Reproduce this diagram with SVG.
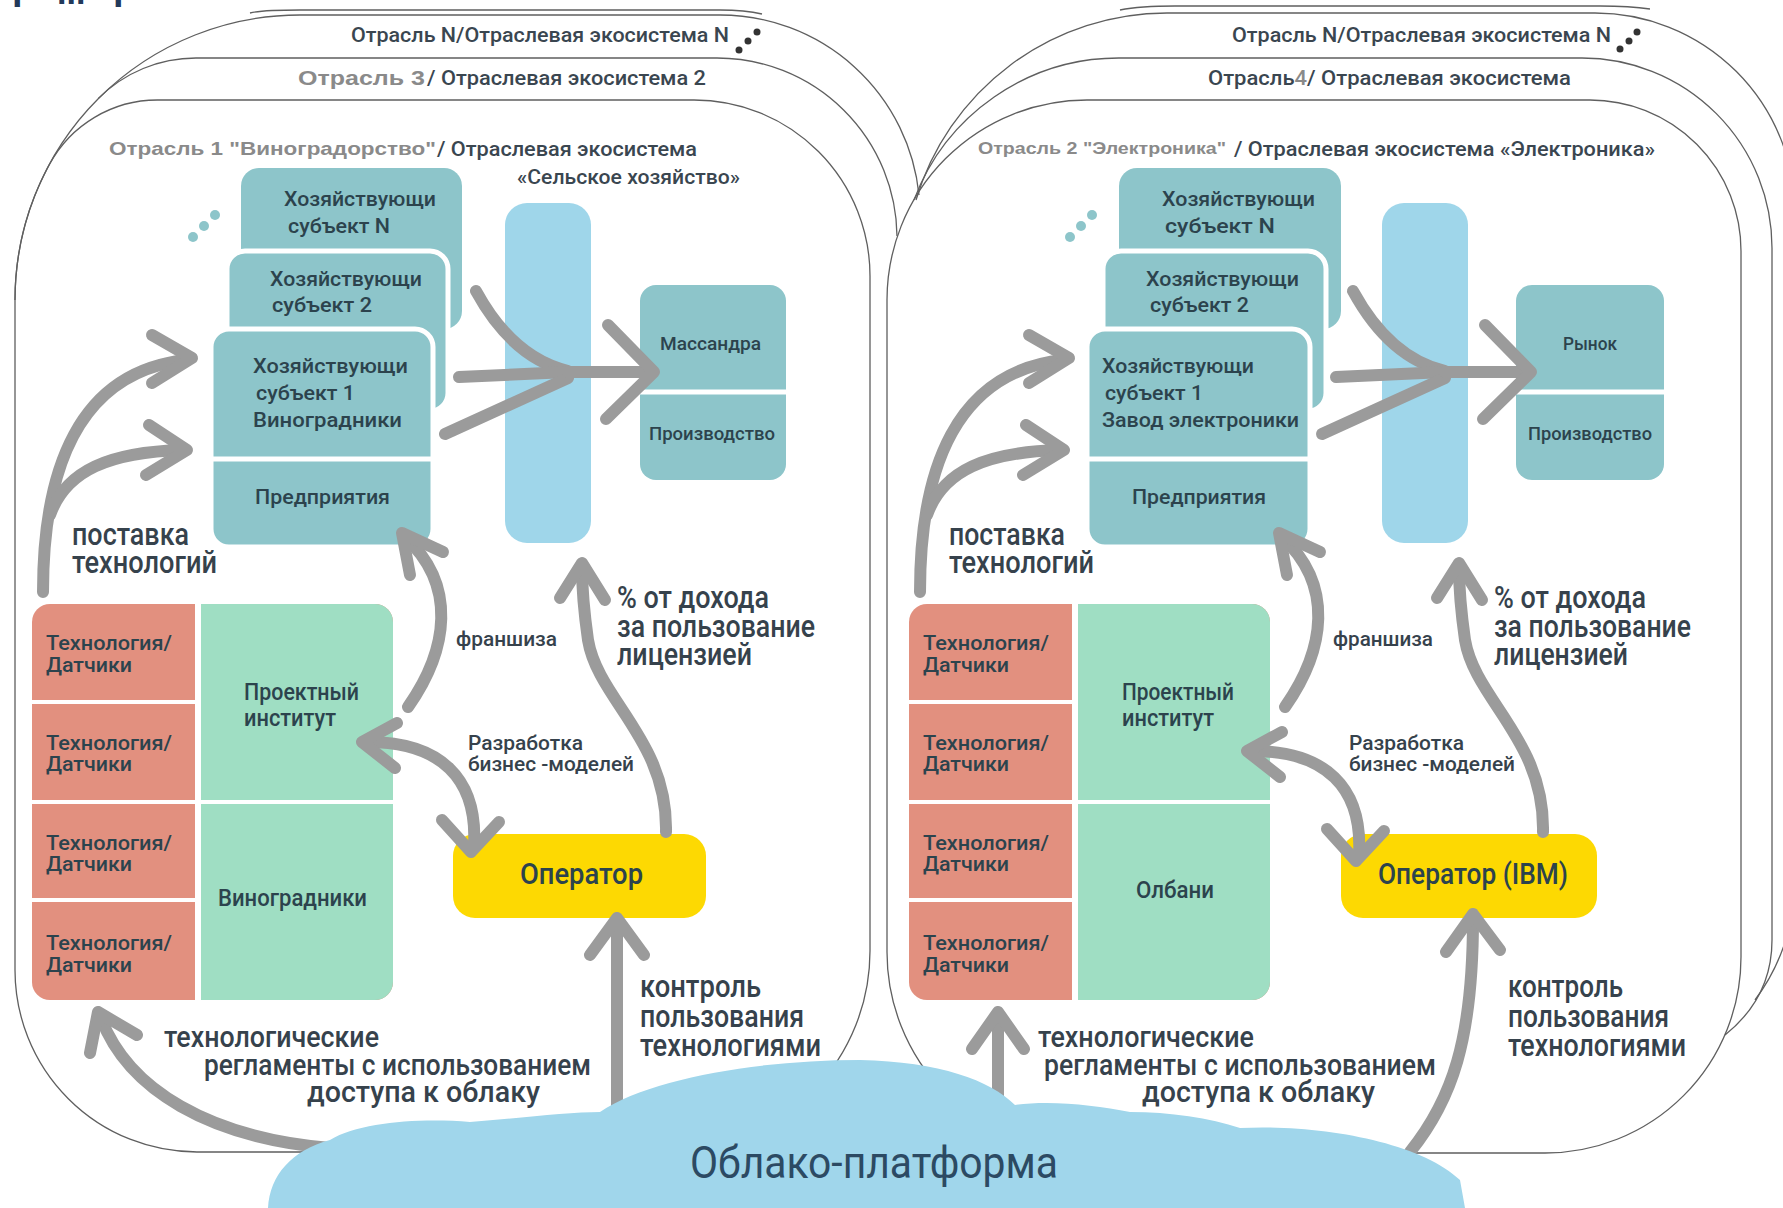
<svg xmlns="http://www.w3.org/2000/svg" width="1783" height="1208" viewBox="0 0 1783 1208">
<style>
.card{fill:none;stroke:#5f5f5f;stroke-width:1.3}
.teal{fill:#8dc5ca}
.stk{stroke:#fff;stroke-width:5}
.sep{stroke:#fff;stroke-width:5}
.bar{fill:#9fd6ea}
.red{fill:#e2907f}
.grn{fill:#9fdec3}
.yel{fill:#fdd902}
.wl{stroke:#fff;stroke-width:5}
.dot{fill:#8dc5ca}
.bdot{fill:#333}
.arr{fill:none;stroke:#9b9b9b;stroke-width:12;stroke-linecap:round;stroke-linejoin:round}
.t{font-family:Roboto,"Liberation Sans","Noto Sans",sans-serif;font-weight:500}
.bx{fill:#2c434d}
.lb{fill:#36424c}
.tl{fill:#3a4650}
.g{font-family:"Liberation Sans",Arial,sans-serif;font-weight:bold;fill:#8a8a8a}
.cloud{fill:#a0d6eb}
.frag{font-family:"Liberation Sans",sans-serif;font-weight:bold;fill:#22395a}
</style>
<rect width="1783" height="1208" fill="#fff"/>
<g id="top-fragment">
  <text class="frag" x="12" y="-1" font-size="38">р</text>
  <text class="frag" x="57" y="4" font-size="34">...</text>
  <text class="frag" x="113" y="-1" font-size="38">р</text>
</g>

<g id="frames">
  <path class="card" d="M250,13 Q262,10 300,10 L720,10 Q745,10 762,14"/>
  <path class="card" d="M15,300 A285,285 0 0 1 300,15 L720,15 A200,200 0 0 1 919,195"/>
  <path class="card" d="M98.4,98.4 A138,138 0 0 1 196,58 L717,58 A180,180 0 0 1 897,236"/>
  <path class="card" d="M157.3,100 L694,100 A176,176 0 0 1 870,276 L870,951 A201,201 0 0 1 669,1152 L197,1152 A182,182 0 0 1 15,970 L15,300 A285,285 0 0 1 49.5,164.3 A122.7,122.7 0 0 1 157.3,100 Z"/>
  <path class="card" d="M1120,10 Q1140,6 1175,6 L1600,6 Q1630,6 1650,9"/>
  <path class="card" d="M916,200 A262,262 0 0 1 1167,13 L1595,13 A200,200 0 0 1 1795,213 L1795,880 A200,200 0 0 1 1755,1000"/>
  <path class="card" d="M914,200 A218.7,218.7 0 0 1 1118.7,58 L1582,58 A190,190 0 0 1 1772,248 L1772,940 C1772,985 1750,1015 1725,1035"/>
  <path class="card" d="M1087,100 L1590,100 A151,151 0 0 1 1741,251 L1741,957 A196,196 0 0 1 1545,1153 L1088,1153 A201,201 0 0 1 887,952 L887,300 A200,200 0 0 1 1087,100 Z"/>
</g>

<g id="titles-left">
  <text class="t tl" x="351" y="42" font-size="21" textLength="378" lengthAdjust="spacingAndGlyphs">Отрасль N/Отраслевая экосистема N</text>
  <circle class="bdot" cx="739" cy="50" r="3.5"/><circle class="bdot" cx="748" cy="41" r="3.5"/><circle class="bdot" cx="757" cy="32" r="3.5"/>
  <text class="g" x="298" y="85" font-size="20" textLength="127" lengthAdjust="spacingAndGlyphs">Отрасль 3</text>
  <text class="t tl" x="427" y="85" font-size="21" textLength="279" lengthAdjust="spacingAndGlyphs">/ Отраслевая экосистема 2</text>
  <text class="g" x="109" y="155" font-size="19" textLength="327" lengthAdjust="spacingAndGlyphs">Отрасль 1 "Виноградорство"</text>
  <text class="t tl" x="437" y="156" font-size="21" textLength="260" lengthAdjust="spacingAndGlyphs">/ Отраслевая экосистема</text>
  <text class="t tl" x="517" y="184" font-size="21" textLength="223" lengthAdjust="spacingAndGlyphs">«Сельское хозяйство»</text>
</g>
<g id="titles-right">
  <text class="t tl" x="1232" y="42" font-size="21" textLength="379" lengthAdjust="spacingAndGlyphs">Отрасль N/Отраслевая экосистема N</text>
  <circle class="bdot" cx="1620" cy="49" r="3.5"/><circle class="bdot" cx="1629" cy="41" r="3.5"/><circle class="bdot" cx="1637" cy="32" r="3.5"/>
  <text class="t tl" x="1208" y="85" font-size="21" textLength="363" lengthAdjust="spacingAndGlyphs">Отрасль<tspan fill="#8a8a8a">4</tspan>/ Отраслевая экосистема</text>
  <text class="g" x="978" y="154" font-size="16" textLength="248" lengthAdjust="spacingAndGlyphs">Отрасль 2 "Электроника"</text>
  <text class="t tl" x="1234" y="156" font-size="21" textLength="421" lengthAdjust="spacingAndGlyphs">/ Отраслевая экосистема «Электроника»</text>
</g>

<!-- LEFT PANEL NODES -->
<g id="subj-n-left">
  <rect class="teal" x="241" y="168" width="221" height="161" rx="18"/>
  <text class="t bx" x="284" y="206" font-size="21" textLength="152" lengthAdjust="spacingAndGlyphs">Хозяйствующи</text>
  <text class="t bx" x="288" y="233" font-size="21" textLength="102" lengthAdjust="spacingAndGlyphs">субъект N</text>
  <circle class="dot" cx="193" cy="237" r="5"/><circle class="dot" cx="204" cy="226" r="5"/><circle class="dot" cx="215" cy="215" r="5"/>
</g>
<g id="subj-2-left">
  <rect class="teal stk" x="227" y="251" width="221" height="160" rx="18"/>
  <text class="t bx" x="270" y="286" font-size="21" textLength="152" lengthAdjust="spacingAndGlyphs">Хозяйствующи</text>
  <text class="t bx" x="272" y="312" font-size="21" textLength="100" lengthAdjust="spacingAndGlyphs">субъект 2</text>
</g>
<g id="subj-1-left">
  <rect class="teal stk" x="211" y="329" width="222" height="218" rx="18"/>
  <line class="sep" x1="211" y1="459" x2="433" y2="459"/>
  <text class="t bx" x="253" y="373" font-size="21" textLength="155" lengthAdjust="spacingAndGlyphs">Хозяйствующи</text>
  <text class="t bx" x="256" y="400" font-size="21" textLength="99" lengthAdjust="spacingAndGlyphs">субъект 1</text>
  <text class="t bx" x="253" y="427" font-size="21" textLength="149" lengthAdjust="spacingAndGlyphs">Виноградники</text>
  <text class="t bx" x="255" y="504" font-size="21" textLength="135" lengthAdjust="spacingAndGlyphs">Предприятия</text>
</g>
<g id="hub-left"><rect class="bar" x="505" y="203" width="86" height="340" rx="22"/></g>
<g id="market-left">
  <rect class="teal" x="640" y="285" width="146" height="195" rx="16"/>
  <line class="sep" x1="640" y1="392" x2="786" y2="392"/>
  <text class="t bx" x="660" y="350" font-size="19" textLength="101" lengthAdjust="spacingAndGlyphs">Массандра</text>
  <text class="t bx" x="649" y="440" font-size="18" textLength="126" lengthAdjust="spacingAndGlyphs">Производство</text>
</g>
<g id="tech-left">
  <rect class="red" x="32" y="604" width="361" height="396" rx="18"/>
  <path class="grn" d="M201,604 H375 A18,18 0 0 1 393,622 V982 A18,18 0 0 1 375,1000 H201 Z"/>
  <line class="wl" x1="198" y1="604" x2="198" y2="1000" style="stroke-width:6"/>
  <line class="wl" x1="32" y1="702" x2="198" y2="702" style="stroke-width:4"/>
  <line class="wl" x1="32" y1="802" x2="393" y2="802" style="stroke-width:4"/>
  <line class="wl" x1="32" y1="900" x2="198" y2="900" style="stroke-width:4"/>
  <text class="t bx" x="46" y="650" font-size="21" textLength="126" lengthAdjust="spacingAndGlyphs">Технология/</text>
  <text class="t bx" x="46" y="672" font-size="21" textLength="86" lengthAdjust="spacingAndGlyphs">Датчики</text>
  <text class="t bx" x="46" y="750" font-size="21" textLength="126" lengthAdjust="spacingAndGlyphs">Технология/</text>
  <text class="t bx" x="46" y="771" font-size="21" textLength="86" lengthAdjust="spacingAndGlyphs">Датчики</text>
  <text class="t bx" x="46" y="850" font-size="21" textLength="126" lengthAdjust="spacingAndGlyphs">Технология/</text>
  <text class="t bx" x="46" y="871" font-size="21" textLength="86" lengthAdjust="spacingAndGlyphs">Датчики</text>
  <text class="t bx" x="46" y="950" font-size="21" textLength="126" lengthAdjust="spacingAndGlyphs">Технология/</text>
  <text class="t bx" x="46" y="972" font-size="21" textLength="86" lengthAdjust="spacingAndGlyphs">Датчики</text>
  <text class="t bx" x="244" y="700" font-size="23" textLength="115" lengthAdjust="spacingAndGlyphs">Проектный</text>
  <text class="t bx" x="244" y="726" font-size="23" textLength="92" lengthAdjust="spacingAndGlyphs">институт</text>
  <text class="t bx" x="218" y="906" font-size="23" textLength="149" lengthAdjust="spacingAndGlyphs">Виноградники</text>
</g>
<g id="operator-left">
  <rect class="yel" x="453" y="834" width="253" height="84" rx="22"/>
  <text class="t bx" x="520" y="884" font-size="30" textLength="123" lengthAdjust="spacingAndGlyphs">Оператор</text>
</g>

<!-- RIGHT PANEL NODES -->
<g id="subj-n-right">
  <rect class="teal" x="1119" y="168" width="222" height="161" rx="18"/>
  <text class="t bx" x="1162" y="206" font-size="21" textLength="153" lengthAdjust="spacingAndGlyphs">Хозяйствующи</text>
  <text class="t bx" x="1165" y="233" font-size="21" textLength="110" lengthAdjust="spacingAndGlyphs">субъект  N</text>
  <circle class="dot" cx="1070" cy="237" r="5"/><circle class="dot" cx="1081" cy="226" r="5"/><circle class="dot" cx="1092" cy="215" r="5"/>
</g>
<g id="subj-2-right">
  <rect class="teal stk" x="1103" y="251" width="223" height="160" rx="18"/>
  <text class="t bx" x="1146" y="286" font-size="21" textLength="153" lengthAdjust="spacingAndGlyphs">Хозяйствующи</text>
  <text class="t bx" x="1150" y="312" font-size="21" textLength="99" lengthAdjust="spacingAndGlyphs">субъект 2</text>
</g>
<g id="subj-1-right">
  <rect class="teal stk" x="1087" y="329" width="223" height="218" rx="18"/>
  <line class="sep" x1="1087" y1="459" x2="1310" y2="459"/>
  <text class="t bx" x="1102" y="373" font-size="21" textLength="152" lengthAdjust="spacingAndGlyphs">Хозяйствующи</text>
  <text class="t bx" x="1105" y="400" font-size="21" textLength="98" lengthAdjust="spacingAndGlyphs">субъект 1</text>
  <text class="t bx" x="1102" y="427" font-size="21" textLength="197" lengthAdjust="spacingAndGlyphs">Завод электроники</text>
  <text class="t bx" x="1132" y="504" font-size="21" textLength="134" lengthAdjust="spacingAndGlyphs">Предприятия</text>
</g>
<g id="hub-right"><rect class="bar" x="1382" y="203" width="86" height="340" rx="22"/></g>
<g id="market-right">
  <rect class="teal" x="1516" y="285" width="148" height="195" rx="16"/>
  <line class="sep" x1="1516" y1="392" x2="1664" y2="392"/>
  <text class="t bx" x="1563" y="350" font-size="19" textLength="54" lengthAdjust="spacingAndGlyphs">Рынок</text>
  <text class="t bx" x="1528" y="440" font-size="18" textLength="124" lengthAdjust="spacingAndGlyphs">Производство</text>
</g>
<g id="tech-right">
  <rect class="red" x="909" y="604" width="361" height="396" rx="18"/>
  <path class="grn" d="M1078,604 H1252 A18,18 0 0 1 1270,622 V982 A18,18 0 0 1 1252,1000 H1078 Z"/>
  <line class="wl" x1="1075" y1="604" x2="1075" y2="1000" style="stroke-width:6"/>
  <line class="wl" x1="909" y1="702" x2="1075" y2="702" style="stroke-width:4"/>
  <line class="wl" x1="909" y1="802" x2="1270" y2="802" style="stroke-width:4"/>
  <line class="wl" x1="909" y1="900" x2="1075" y2="900" style="stroke-width:4"/>
  <text class="t bx" x="923" y="650" font-size="21" textLength="126" lengthAdjust="spacingAndGlyphs">Технология/</text>
  <text class="t bx" x="923" y="672" font-size="21" textLength="86" lengthAdjust="spacingAndGlyphs">Датчики</text>
  <text class="t bx" x="923" y="750" font-size="21" textLength="126" lengthAdjust="spacingAndGlyphs">Технология/</text>
  <text class="t bx" x="923" y="771" font-size="21" textLength="86" lengthAdjust="spacingAndGlyphs">Датчики</text>
  <text class="t bx" x="923" y="850" font-size="21" textLength="126" lengthAdjust="spacingAndGlyphs">Технология/</text>
  <text class="t bx" x="923" y="871" font-size="21" textLength="86" lengthAdjust="spacingAndGlyphs">Датчики</text>
  <text class="t bx" x="923" y="950" font-size="21" textLength="126" lengthAdjust="spacingAndGlyphs">Технология/</text>
  <text class="t bx" x="923" y="972" font-size="21" textLength="86" lengthAdjust="spacingAndGlyphs">Датчики</text>
  <text class="t bx" x="1122" y="700" font-size="23" textLength="112" lengthAdjust="spacingAndGlyphs">Проектный</text>
  <text class="t bx" x="1122" y="726" font-size="23" textLength="92" lengthAdjust="spacingAndGlyphs">институт</text>
  <text class="t bx" x="1136" y="898" font-size="23" textLength="78" lengthAdjust="spacingAndGlyphs">Олбани</text>
</g>
<g id="operator-right">
  <rect class="yel" x="1341" y="834" width="256" height="84" rx="22"/>
  <text class="t bx" x="1378" y="884" font-size="30" textLength="190" lengthAdjust="spacingAndGlyphs">Оператор (IBM)</text>
</g>

<g id="connectors">
  <!-- left -->
  <path class="arr" d="M43,592 C43,470 78,372 186,360"/>
  <path class="arr" d="M152,335 L192,358 L152,383"/>
  <path class="arr" d="M50,515 C66,470 110,452 183,450"/>
  <path class="arr" d="M149,425 L187,450 L146,475"/>
  <path class="arr" d="M476,291 C500,335 530,362 568,371"/>
  <path class="arr" d="M459,377 L568,372"/>
  <path class="arr" d="M445,434 L568,378"/>
  <path class="arr" d="M568,372 L650,372"/>
  <path class="arr" d="M608,325 L654,372 L606,419"/>
  <path class="arr" d="M408,707 C448,650 458,585 404,536"/>
  <path class="arr" d="M443,552 L402,533 L410,575"/>
  <path class="arr" d="M666,832 C668,740 598,700 588,640 C584,612 582,590 582,567"/>
  <path class="arr" d="M560,598 L582,563 L605,600"/>
  <path class="arr" d="M368,742 C440,742 478,778 474,846"/>
  <path class="arr" d="M397,723 L362,742 L395,768"/>
  <path class="arr" d="M442,820 L471,852 L499,822"/>
  <path class="arr" d="M617,1112 L617,922"/>
  <path class="arr" d="M590,955 L617,918 L644,955"/>
  <path class="arr" d="M330,1148 C210,1138 128,1090 101,1018"/>
  <path class="arr" d="M90,1053 L98,1012 L137,1035"/>
  <!-- right -->
  <path class="arr" d="M920,592 C920,470 955,372 1063,360"/>
  <path class="arr" d="M1029,335 L1069,358 L1029,383"/>
  <path class="arr" d="M927,515 C943,470 987,452 1060,450"/>
  <path class="arr" d="M1026,425 L1064,450 L1023,475"/>
  <path class="arr" d="M1353,291 C1377,335 1407,362 1445,371"/>
  <path class="arr" d="M1336,377 L1445,372"/>
  <path class="arr" d="M1322,434 L1445,378"/>
  <path class="arr" d="M1445,372 L1527,372"/>
  <path class="arr" d="M1485,325 L1531,372 L1483,419"/>
  <path class="arr" d="M1285,707 C1325,650 1335,585 1281,536"/>
  <path class="arr" d="M1320,552 L1279,533 L1287,575"/>
  <path class="arr" d="M1543,832 C1545,740 1475,700 1465,640 C1461,612 1459,590 1459,567"/>
  <path class="arr" d="M1437,598 L1459,563 L1482,600"/>
  <path class="arr" d="M1253,751 C1325,751 1363,787 1359,855"/>
  <path class="arr" d="M1282,732 L1247,751 L1280,777"/>
  <path class="arr" d="M1327,829 L1356,861 L1384,831"/>
  <path class="arr" d="M998,1105 L998,1016"/>
  <path class="arr" d="M972,1049 L998,1012 L1024,1049"/>
  <path class="arr" d="M1410,1152 C1452,1100 1473,1040 1473,918"/>
  <path class="arr" d="M1446,952 L1473,914 L1500,950"/>

  <!-- labels left -->
  <text class="t lb" x="72" y="545" font-size="32" textLength="117" lengthAdjust="spacingAndGlyphs">поставка</text>
  <text class="t lb" x="72" y="573" font-size="32" textLength="145" lengthAdjust="spacingAndGlyphs">технологий</text>
  <text class="t lb" x="456" y="646" font-size="21" textLength="101" lengthAdjust="spacingAndGlyphs">франшиза</text>
  <text class="t lb" x="617" y="608" font-size="31" textLength="152" lengthAdjust="spacingAndGlyphs">% от дохода</text>
  <text class="t lb" x="617" y="637" font-size="31" textLength="198" lengthAdjust="spacingAndGlyphs">за пользование</text>
  <text class="t lb" x="617" y="665" font-size="31" textLength="135" lengthAdjust="spacingAndGlyphs">лицензией</text>
  <text class="t lb" x="468" y="750" font-size="21" textLength="115" lengthAdjust="spacingAndGlyphs">Разработка</text>
  <text class="t lb" x="468" y="771" font-size="21" textLength="166" lengthAdjust="spacingAndGlyphs">бизнес -моделей</text>
  <text class="t lb" x="640" y="997" font-size="31" textLength="121" lengthAdjust="spacingAndGlyphs">контроль</text>
  <text class="t lb" x="640" y="1027" font-size="31" textLength="164" lengthAdjust="spacingAndGlyphs">пользования</text>
  <text class="t lb" x="640" y="1056" font-size="31" textLength="181" lengthAdjust="spacingAndGlyphs">технологиями</text>
  <text class="t lb" x="164" y="1047" font-size="30" textLength="215" lengthAdjust="spacingAndGlyphs">технологические</text>
  <text class="t lb" x="204" y="1075" font-size="30" textLength="387" lengthAdjust="spacingAndGlyphs">регламенты с использованием</text>
  <text class="t lb" x="307" y="1102" font-size="30" textLength="233" lengthAdjust="spacingAndGlyphs">доступа   к облаку</text>
  <!-- labels right -->
  <text class="t lb" x="949" y="545" font-size="32" textLength="116" lengthAdjust="spacingAndGlyphs">поставка</text>
  <text class="t lb" x="949" y="573" font-size="32" textLength="145" lengthAdjust="spacingAndGlyphs">технологий</text>
  <text class="t lb" x="1333" y="646" font-size="21" textLength="100" lengthAdjust="spacingAndGlyphs">франшиза</text>
  <text class="t lb" x="1494" y="608" font-size="31" textLength="152" lengthAdjust="spacingAndGlyphs">% от дохода</text>
  <text class="t lb" x="1494" y="637" font-size="31" textLength="197" lengthAdjust="spacingAndGlyphs">за пользование</text>
  <text class="t lb" x="1494" y="665" font-size="31" textLength="134" lengthAdjust="spacingAndGlyphs">лицензией</text>
  <text class="t lb" x="1349" y="750" font-size="21" textLength="115" lengthAdjust="spacingAndGlyphs">Разработка</text>
  <text class="t lb" x="1349" y="771" font-size="21" textLength="166" lengthAdjust="spacingAndGlyphs">бизнес -моделей</text>
  <text class="t lb" x="1508" y="997" font-size="31" textLength="115" lengthAdjust="spacingAndGlyphs">контроль</text>
  <text class="t lb" x="1508" y="1027" font-size="31" textLength="161" lengthAdjust="spacingAndGlyphs">пользования</text>
  <text class="t lb" x="1508" y="1056" font-size="31" textLength="178" lengthAdjust="spacingAndGlyphs">технологиями</text>
  <text class="t lb" x="1038" y="1047" font-size="30" textLength="216" lengthAdjust="spacingAndGlyphs">технологические</text>
  <text class="t lb" x="1044" y="1075" font-size="30" textLength="392" lengthAdjust="spacingAndGlyphs">регламенты с использованием</text>
  <text class="t lb" x="1142" y="1102" font-size="30" textLength="233" lengthAdjust="spacingAndGlyphs">доступа   к облаку</text>
</g>

<g id="cloud">
  <path class="cloud" d="M268,1208 C270,1175 292,1150 330,1140 C360,1122 420,1118 470,1122 C520,1118 570,1112 600,1112 C650,1078 760,1060 860,1060 C940,1062 990,1080 1015,1105 C1050,1100 1095,1105 1130,1112 C1170,1112 1210,1118 1240,1128 C1320,1124 1420,1142 1460,1180 L1465,1208 Z"/>
  <text class="t" x="690" y="1178" font-size="44" textLength="368" lengthAdjust="spacingAndGlyphs" fill="#2c4a63" style="font-weight:400">Облако-платформа</text>
</g>
</svg>
